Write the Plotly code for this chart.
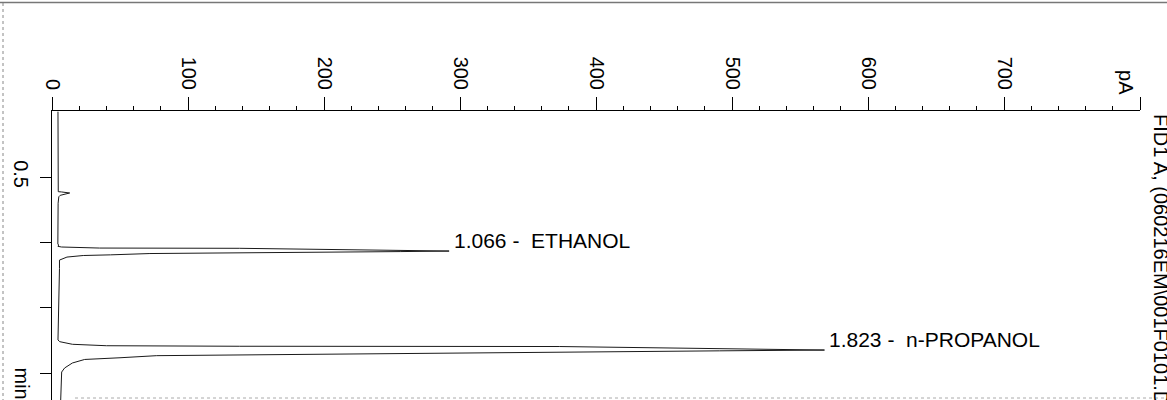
import plotly.graph_objects as go

# ---- data (retention time in min, signal in pA) ----
time_min = [0.000, 0.300, 0.600, 0.612, 0.614, 0.622, 0.640, 0.651, 0.700,
            1.000, 1.012, 1.020, 1.030, 1.035, 1.043, 1.045, 1.054, 1.066,
            1.070, 1.077, 1.083, 1.085, 1.095, 1.100, 1.112, 1.135, 1.200,
            1.400, 1.700, 1.746, 1.759, 1.779, 1.790, 1.794, 1.796, 1.811,
            1.823, 1.829, 1.836, 1.846, 1.861, 1.866, 1.882, 1.895, 1.922,
            1.960, 1.991, 2.167, 2.205]
signal_pA = [4.4, 4.4, 4.4, 4.6, 7.0, 13.0, 6.0, 5.0, 4.5,
             4.4, 4.3, 4.9, 4.4, 7.0, 35, 138, 204, 292,
             256, 182, 138, 72, 43, 23, 11, 5.5, 5.5,
             5.0, 4.4, 4.4, 5.7, 15, 40, 138, 373, 476,
             568, 491, 417, 292, 138, 77, 50, 24, 15,
             9.3, 7.1, 6.4, 6.4]

peak_rt = [1.066, 1.823]
peak_height = [292, 568]
peak_names = ["ETHANOL", "n-PROPANOL"]

x_tick_vals = [0, 100, 200, 300, 400, 500, 600, 700, 800]
x_tick_text = ["0", "100", "200", "300", "400", "500", "600", "700", ""]
y_tick_vals = [0.5, 1.0, 1.5, 2.0]
y_tick_text = ["0.5", "", "", ""]
signal_title = "FID1 A, (060216EM\\001F0101.D)"

# ---- layout geometry ----
W, H = 1167, 400
L, R, T, B = 52, 27, 111, 0
PW, PH = W - L - R, H - T - B


def px_x(p):
    return (p - L) / PW


def px_y(p):
    return (H - B - p) / PH


FONT = "Liberation Sans, Arial, sans-serif"

fig = go.Figure(go.Scatter(
    x=signal_pA, y=time_min, mode="lines",
    line=dict(color="#1a1a1a", width=1), hoverinfo="skip", showlegend=False))

fig.update_layout(
    width=W, height=H, margin=dict(l=L, r=R, t=T, b=B),
    paper_bgcolor="white", plot_bgcolor="white",
    font=dict(family=FONT, size=20, color="black"),
    xaxis=dict(
        side="top", range=[0, 800], tickmode="array",
        tickvals=x_tick_vals, ticktext=x_tick_text,
        ticks="outside", ticklen=13, tickwidth=1, tickcolor="black",
        tickangle=90, tickfont=dict(size=20), ticklabelstandoff=0,
        showline=True, linecolor="black", linewidth=1,
        showgrid=False, zeroline=False,
        minor=dict(tickmode="array",
                   tickvals=[v for v in range(20, 800, 20) if v % 100],
                   ticks="outside", ticklen=4, tickcolor="black", showgrid=False),
    ),
    yaxis=dict(
        range=[2.205, -0.005], tickmode="array",
        tickvals=y_tick_vals, ticktext=y_tick_text,
        ticks="outside", ticklen=11, tickwidth=1, tickcolor="black",
        tickangle=90, tickfont=dict(size=20), ticklabelstandoff=2,
        showline=True, linecolor="black", linewidth=1,
        showgrid=False, zeroline=False,
    ),
)

annotations = []
for rt, h, name in zip(peak_rt, peak_height, peak_names):
    annotations.append(dict(
        x=h, y=rt, xref="x", yref="y", text=f"{rt:.3f} -  {name}",
        showarrow=False, xanchor="left", yanchor="bottom", xshift=3, yshift=-3,
        font=dict(size=21, family=FONT)))

annotations.append(dict(
    x=790, y=1, xref="x", yref="paper", text="pA", textangle=90,
    showarrow=False, xanchor="center", yanchor="bottom", yshift=14,
    font=dict(size=20, family=FONT)))
annotations.append(dict(
    x=px_x(21.5), y=2.075, xref="paper", yref="y", text="min", textangle=90,
    showarrow=False, xanchor="center", yanchor="middle",
    font=dict(size=20, family=FONT)))
annotations.append(dict(
    x=px_x(1161), y=px_y(112), xref="paper", yref="paper", text=signal_title,
    textangle=90, showarrow=False, xanchor="center", yanchor="top",
    font=dict(size=20, family=FONT)))
fig.update_layout(annotations=annotations)

# scanned page frame lines
fig.update_layout(shapes=[
    dict(type="line", xref="paper", yref="paper", x0=px_x(0), x1=px_x(W),
         y0=px_y(2.5), y1=px_y(2.5), line=dict(color="#777", width=1.5)),
    dict(type="line", xref="paper", yref="paper", x0=px_x(3), x1=px_x(3),
         y0=px_y(3), y1=px_y(H), line=dict(color="#888", width=1, dash="dot")),
    dict(type="line", xref="paper", yref="paper", x0=px_x(75), x1=px_x(W),
         y0=px_y(398), y1=px_y(398), line=dict(color="#aaa", width=1, dash="dot")),
])

fig.write_html("out.html",
               config={"displayModeBar": False, "staticPlot": True},
               post_script="document.body.style.margin='0';"
                           "document.body.style.overflow='hidden';")
